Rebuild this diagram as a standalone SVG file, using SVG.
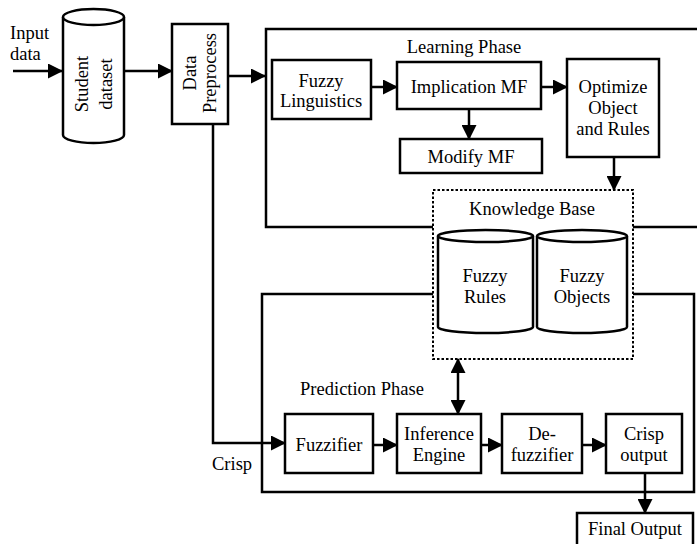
<svg xmlns="http://www.w3.org/2000/svg" width="697" height="544" viewBox="0 0 697 544" font-family="'Liberation Serif', 'Times New Roman', serif">
<defs>
<marker id="ah" markerUnits="userSpaceOnUse" markerWidth="15" markerHeight="15" refX="14" refY="7.5" orient="auto-start-reverse">
<path d="M0,0 L15,7.5 L0,15 z" fill="#000"/>
</marker>
<style>
text{font-family:"Liberation Serif","Times New Roman",serif;font-size:18.5px;fill:#000;text-anchor:middle}
.box{fill:#fff;stroke:#000;stroke-width:2.5}
.ln{fill:none;stroke:#000;stroke-width:2.5}
.arr{fill:none;stroke:#000;stroke-width:2.5;marker-end:url(#ah)}
.dot{fill:none;stroke:#000;stroke-width:2;stroke-dasharray:2.5,2}
</style>
</defs>
<rect width="697" height="544" fill="#fff"/>

<g id="phases">
<path class="ln" d="M433,227 L266,227 L266,29 L697,29 M633,227 L697,227"/>
<text x="464" y="53">Learning Phase</text>
<path class="ln" d="M433,294 L262,294 L262,492 L694,492 L694,294 L633,294"/>
<text x="362" y="395">Prediction Phase</text>
</g>

<g id="connectors">
<path class="arr" d="M13,71 L62,71"/>
<path class="arr" d="M124,71 L172,71"/>
<path class="arr" d="M228,76 L265,76"/>
<path class="arr" d="M213,124 L213,443 L285,443"/>
<path class="arr" d="M371,87 L397,87"/>
<path class="arr" d="M541,87 L567,87"/>
<path class="arr" d="M469,109 L469,139"/>
<path class="arr" d="M614,157 L614,190"/>
<path class="arr" d="M458,359 L458,414" style="marker-start:url(#ah)"/>
<path class="arr" d="M373,445 L397,445"/>
<path class="arr" d="M481,445 L502,445"/>
<path class="arr" d="M582,445 L606,445"/>
<path class="arr" d="M645,473 L645,513"/>
</g>

<g id="input-label">
<text x="10" y="39" style="text-anchor:start">Input</text>
<text x="10" y="60" style="text-anchor:start">data</text>
</g>

<g id="student-dataset">
<path class="box" d="M63,17 L63,135 A30.5,8 0 0 0 124,135 L124,17"/>
<ellipse class="box" cx="93.5" cy="17" rx="30.5" ry="8"/>
<text transform="translate(88,84) rotate(-90)">Student</text>
<text transform="translate(112,84) rotate(-90)">dataset</text>
</g>

<g id="data-preprocess">
<rect class="box" x="172" y="24" width="56" height="100"/>
<text transform="translate(196,73) rotate(-90)">Data</text>
<text transform="translate(216,73) rotate(-90)">Preprocess</text>
</g>

<g id="fuzzy-linguistics">
<rect class="box" x="272" y="60" width="99" height="59"/>
<text x="321" y="87">Fuzzy</text>
<text x="321" y="107">Linguistics</text>
</g>

<g id="implication-mf">
<rect class="box" x="397" y="62" width="144" height="47"/>
<text x="469" y="93">Implication MF</text>
</g>

<g id="modify-mf">
<rect class="box" x="400" y="139" width="142" height="34"/>
<text x="471" y="163">Modify MF</text>
</g>

<g id="optimize">
<rect class="box" x="567" y="59" width="92" height="98"/>
<text x="613" y="93">Optimize</text>
<text x="613" y="114">Object</text>
<text x="613" y="135">and Rules</text>
</g>

<g id="knowledge-base">
<rect class="dot" x="433" y="190" width="200" height="169"/>
<text x="532" y="215">Knowledge Base</text>
</g>

<g id="fuzzy-rules">
<path class="box" d="M438,236 L438,327 A47.5,6 0 0 0 533,327 L533,236"/>
<ellipse class="box" cx="485.5" cy="236" rx="47.5" ry="6"/>
<text x="485" y="282">Fuzzy</text>
<text x="485" y="303">Rules</text>
</g>

<g id="fuzzy-objects">
<path class="box" d="M537,236 L537,327 A45,6 0 0 0 627,327 L627,236"/>
<ellipse class="box" cx="582" cy="236" rx="45" ry="6"/>
<text x="582" y="282">Fuzzy</text>
<text x="582" y="303">Objects</text>
</g>

<g id="fuzzifier">
<rect class="box" x="285" y="414" width="88" height="59"/>
<text x="329" y="451">Fuzzifier</text>
</g>

<g id="inference-engine">
<rect class="box" x="397" y="414" width="84" height="59"/>
<text x="439" y="440">Inference</text>
<text x="439" y="461">Engine</text>
</g>

<g id="defuzzifier">
<rect class="box" x="502" y="414" width="80" height="59"/>
<text x="542" y="440">De-</text>
<text x="542" y="461">fuzzifier</text>
</g>

<g id="crisp-output">
<rect class="box" x="606" y="414" width="76" height="59"/>
<text x="644" y="440">Crisp</text>
<text x="644" y="461">output</text>
</g>

<g id="final-output">
<rect class="box" x="577" y="513" width="116" height="40"/>
<text x="635" y="535">Final Output</text>
</g>

<g id="crisp-label">
<text x="212" y="470" style="text-anchor:start">Crisp</text>
</g>
</svg>
